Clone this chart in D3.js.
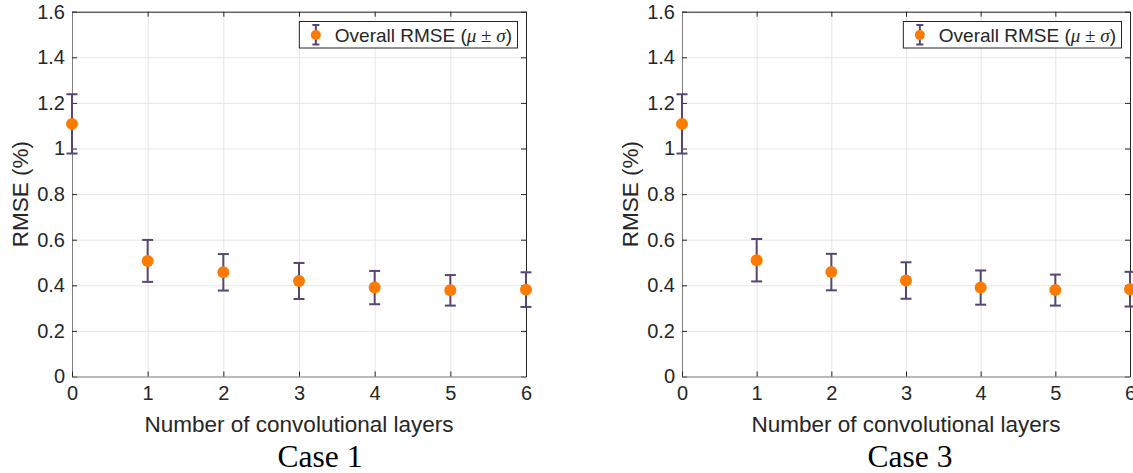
<!DOCTYPE html>
<html>
<head>
<meta charset="utf-8">
<script src="https://cdn.jsdelivr.net/npm/d3@7"></script>
<style>
  body { margin: 0; background: #fff; }
  text { font-family: "Liberation Sans", Arial, sans-serif; fill: #262626; }
</style>
</head>
<body>
<script>
var width = 1133,
  height = 473;

// data
var layers = [0, 1, 2, 3, 4, 5, 6];
var case1Mean = [1.108, 0.507, 0.457, 0.419, 0.390, 0.378, 0.381];
var case1Std = [0.130, 0.092, 0.080, 0.079, 0.073, 0.067, 0.076];
var case3Mean = [1.108, 0.510, 0.458, 0.421, 0.390, 0.379, 0.383];
var case3Std = [0.130, 0.093, 0.080, 0.080, 0.075, 0.068, 0.076];
var yTicks = [0, 0.2, 0.4, 0.6, 0.8, 1, 1.2, 1.4, 1.6];
var captions = ["Case 1", "Case 3"];
var legendLabel = "Overall RMSE";

var dotColor = "#ff7b00",
  barColor = "#574673";

var svg = d3.select("body").append("svg")
  .attr("width", width)
  .attr("height", height);

var panels = [
  { left: 72, right: 526, mean: case1Mean, std: case1Std, caption: captions[0], capX: 320 },
  { left: 682, right: 1130, mean: case3Mean, std: case3Std, caption: captions[1], capX: 910 }
];

var plotTop = 11.7, plotBottom = 376.5;

panels.forEach(drawPanel);

function drawPanel(p) {
  var x = d3.scaleLinear().domain([0, 6]).range([p.left, p.right]);
  var y = d3.scaleLinear().domain([0, 1.6]).range([plotBottom, plotTop]);
  var g = svg.append("g");

  // grid
  g.append("g")
    .attr("transform", "translate(" + p.left + ",0)")
    .call(d3.axisLeft(y).tickValues(yTicks).tickSize(-(p.right - p.left)).tickFormat(""))
    .call(function (s) { s.select(".domain").remove(); s.selectAll("line").attr("stroke", "#e6e6e6"); });
  g.append("g")
    .attr("transform", "translate(0," + plotBottom + ")")
    .call(d3.axisBottom(x).tickValues(layers).tickSize(-(plotBottom - plotTop)).tickFormat(""))
    .call(function (s) { s.select(".domain").remove(); s.selectAll("line").attr("stroke", "#e6e6e6"); });

  // axes (box, inward ticks)
  var fmt = function (d) { return String(+d.toFixed(1)); };
  g.append("g")
    .attr("transform", "translate(0," + plotTop + ")")
    .call(d3.axisTop(x).tickValues(layers).tickSize(-5).tickSizeOuter(0).tickFormat(""))
    .call(styleAxis, "#262626");
  g.append("g")
    .attr("transform", "translate(" + p.right + ",0)")
    .call(d3.axisRight(y).tickValues(yTicks).tickSize(-5).tickSizeOuter(0).tickFormat(""))
    .call(styleAxis, "#262626");
  g.append("g")
    .attr("transform", "translate(" + p.left + ",0)")
    .call(d3.axisLeft(y).tickValues(yTicks).tickSize(-5).tickSizeOuter(0).tickPadding(7).tickFormat(fmt))
    .call(styleAxis, "#808080");
  g.append("g")
    .attr("transform", "translate(0," + plotBottom + ")")
    .call(d3.axisBottom(x).tickValues(layers).tickSize(-5).tickSizeOuter(0).tickPadding(9).tickFormat(d3.format("d")))
    .call(styleAxis, "#808080");

  // labels
  g.append("text")
    .attr("x", (p.left + p.right) / 2)
    .attr("y", 431.5)
    .attr("text-anchor", "middle")
    .style("font-size", "22.5px")
    .text("Number of convolutional layers");
  g.append("text")
    .attr("transform", "translate(" + (p.left - 44) + "," + ((plotTop + plotBottom) / 2) + ") rotate(-90)")
    .attr("text-anchor", "middle")
    .style("font-size", "22.5px")
    .text("RMSE (%)");
  g.append("text")
    .attr("x", p.capX)
    .attr("y", 467)
    .attr("text-anchor", "middle")
    .style("font-family", "'Liberation Serif', 'Times New Roman', serif")
    .style("font-size", "31.5px")
    .style("fill", "#000")
    .text(p.caption);

  // error bars
  var pts = layers.map(function (d, i) { return { x: d, m: p.mean[i], s: p.std[i] }; });
  var eb = g.append("g").attr("stroke", barColor).attr("stroke-width", 2);
  eb.selectAll(".v").data(pts).enter().append("line")
    .attr("x1", function (d) { return x(d.x); })
    .attr("x2", function (d) { return x(d.x); })
    .attr("y1", function (d) { return y(d.m - d.s); })
    .attr("y2", function (d) { return y(d.m + d.s); });
  [-1, 1].forEach(function (k) {
    eb.selectAll(".c" + k).data(pts).enter().append("line")
      .attr("x1", function (d) { return x(d.x) - 5.5; })
      .attr("x2", function (d) { return x(d.x) + 5.5; })
      .attr("y1", function (d) { return y(d.m + k * d.s); })
      .attr("y2", function (d) { return y(d.m + k * d.s); });
  });
  g.selectAll("circle").data(pts).enter().append("circle")
    .attr("cx", function (d) { return x(d.x); })
    .attr("cy", function (d) { return y(d.m); })
    .attr("r", 6)
    .attr("fill", dotColor);

  // legend
  var lg = g.append("g");
  var rect = lg.append("rect")
    .attr("fill", "#fff")
    .attr("stroke", "#262626")
    .attr("stroke-width", 1);
  var t = lg.append("text").style("font-size", "19px").attr("y", 41.5);
  t.append("tspan").text(legendLabel + " (");
  t.append("tspan").style("font-family", "'Liberation Serif', serif").style("font-style", "italic").text("\u03bc");
  t.append("tspan").style("font-family", "'Liberation Serif', serif").text(" \u00b1 ");
  t.append("tspan").style("font-family", "'Liberation Serif', serif").style("font-style", "italic").text("\u03c3");
  t.append("tspan").text(")");
  var tw = t.node().getComputedTextLength();
  var bw = tw + 41, bx = p.right - 9 - bw;
  rect.attr("x", bx + 0.5).attr("y", 21.5).attr("width", bw).attr("height", 26.5);
  t.attr("x", bx + 36);
  var mx = bx + 17;
  lg.append("g").attr("stroke", barColor).attr("stroke-width", 2)
    .selectAll("line").data([[mx, 25, mx, 44.5], [mx - 3.5, 25, mx + 3.5, 25], [mx - 3.5, 44.5, mx + 3.5, 44.5]])
    .enter().append("line")
    .attr("x1", function (d) { return d[0]; }).attr("y1", function (d) { return d[1]; })
    .attr("x2", function (d) { return d[2]; }).attr("y2", function (d) { return d[3]; });
  lg.append("circle").attr("cx", mx).attr("cy", 35).attr("r", 5).attr("fill", dotColor);
}

function styleAxis(s, lineColor) {
  s.select(".domain").attr("stroke", lineColor);
  s.selectAll(".tick line").attr("stroke", "#262626");
  s.selectAll(".tick text").style("font-size", "20px").attr("fill", "#262626");
}
</script>
</body>
</html>
